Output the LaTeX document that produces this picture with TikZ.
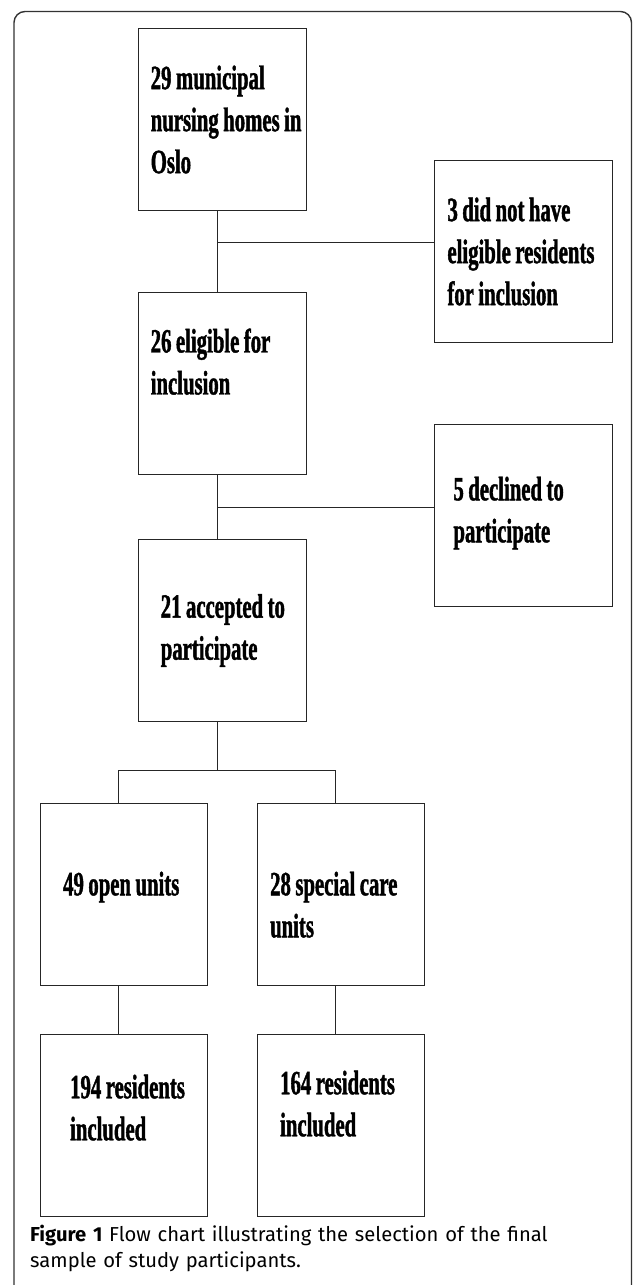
\documentclass[tikz,border=0pt]{standalone}
\usepackage{fontspec}
\newfontfamily\boxfont[FakeStretch=0.61, BoldFeatures={FakeBold=1.2}]{Liberation Serif}
\newfontfamily\capfont{Fira Sans}
\usepackage{tikz}
\usetikzlibrary{positioning, calc}
\tikzset{stagebox/.style={draw=black!85, line width=0.9pt, inner sep=0pt, anchor=north west, minimum width=167.5pt, minimum height=181.5pt, align=left, font=\boxfont\bfseries\fontsize{34}{42}\selectfont, execute at begin node={\spaceskip=4.5pt\relax\xspaceskip=4.5pt\relax}},
         sidebox/.style={stagebox, minimum width=178pt},
         link/.style={draw=black!85, line width=0.9pt}}

\begin{document}
\begin{tikzpicture}[x=1pt, y=-1pt]
                 \useasboundingbox (0,0) rectangle (633,1285);
                 \draw[black!80, line width=1.4pt, rounded corners=11pt] (14,1300) |- (631.5,11.5) -- (631.5,1300);

                 \node[stagebox, text width=143.5pt] (homes) at (138.3,28.3) {\mbox{29 municipal}\\ \mbox{nursing homes in}\\ Oslo};
                 \node[sidebox, text width=152pt] (nohave) at (434,160.3) {\mbox{3 did not have}\\ \mbox{eligible residents}\\ \mbox{for inclusion}};
                 \node[stagebox, text width=143.5pt, text depth=86pt] (eligible) at (138.3,292.3) {\mbox{26 eligible for}\\ inclusion};
                 \node[sidebox, text width=140pt, text depth=54pt] (declined) at (434,424.3) {\mbox{5 declined to}\\ participate};
                 \node[stagebox, text width=123.5pt] (accepted) at (138.3,539.3) {\mbox{21 accepted to}\\ participate};

                 \node[stagebox, text width=121.5pt, text depth=22pt] (openunits) at (39.7,803.3) {\mbox{49 open units}};
                 \node[stagebox, text width=141.5pt, text depth=22pt] (special) at (256.7,803.3) {\mbox{28 special care}\\ units};
                 \node[stagebox, text width=107.5pt, text depth=77.5pt] (res194) at (39.7,1034) {\mbox{194 residents}\\ included};
                 \node[stagebox, text width=121.5pt, text depth=85.5pt] (res164) at (256.7,1034) {\mbox{164 residents}\\ included};

                 \coordinate (j1) at (217.3,242.7);
                 \coordinate (j2) at (217.3,507);
                 \coordinate (j3) at (217.3,770.3);
                 \coordinate (jl) at (118.7,770.3);
                 \coordinate (jr) at (335.7,770.3);

                 \draw[link] (j1 |- homes.south) -- (j1 |- eligible.north);
                 \draw[link] (j1) -- (j1 -| nohave.west);
                 \draw[link] (j2 |- eligible.south) -- (j2 |- accepted.north);
                 \draw[link] (j2) -- (j2 -| declined.west);
                 \draw[link] (j3 |- accepted.south) -- (j3);
                 \draw[link] (jl |- openunits.north) -- (jl) -- (jr) -- (jr |- special.north);
                 \draw[link] (jl |- openunits.south) -- (jl |- res194.north);
                 \draw[link] (jr |- special.south) -- (jr |- res164.north);

                 \node[anchor=base west, align=left, text width=600pt, inner sep=0pt, font=\capfont\fontsize{20.2}{26.5}\selectfont] (caption) at (30,1241) {\textbf{Figure 1} Flow chart illustrating the selection of the final\\ sample of study participants.};
\end{tikzpicture}
\end{document}
